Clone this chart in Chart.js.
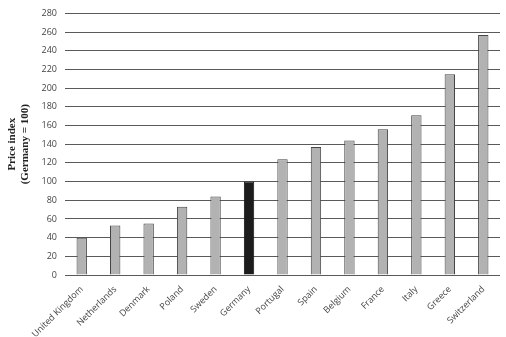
<!DOCTYPE html>
<html>
<head>
<meta charset="utf-8">
<script src="https://cdn.jsdelivr.net/npm/chart.js@4"></script>
<style>
  html, body { margin: 0; padding: 0; background: #fff; }
  #wrap { width: 506px; height: 337px; }
</style>
</head>
<body>
<div id="wrap"><canvas id="chart" width="506" height="337"></canvas></div>
<script>
// price index by country, Germany = 100
const countries = ['United Kingdom', 'Netherlands', 'Denmark', 'Poland', 'Sweden', 'Germany',
    'Portugal', 'Spain', 'Belgium', 'France', 'Italy', 'Greece', 'Switzerland'];
const priceIndex = [40, 53, 55, 73, 84, 100, 124, 137, 144, 156, 171, 215, 257];
const yTicks = [0, 20, 40, 60, 80, 100, 120, 140, 160, 180, 200, 220, 240, 260, 280];

const barColors = countries.map(c => c === 'Germany' ? '#1c1c1c' : '#b2b2b2');
const borderColors = countries.map(c => c === 'Germany' ? '#111' : '#444');

const ctx = document.getElementById('chart').getContext('2d');

const chart = new Chart(ctx, {
    type: 'bar',
    data: {
        labels: countries,
        datasets: [{
            label: 'Price index',
            data: priceIndex,
            backgroundColor: barColors,
            borderColor: borderColors,
            borderWidth: 1,
            barPercentage: 0.62,
            categoryPercentage: 0.5
        }]
    },
    options: {
        responsive: false,
        animation: false,
        layout: { padding: { top: 4, right: 6, left: 6, bottom: 0 } },
        plugins: {
            legend: { display: false },
            tooltip: { enabled: false }
        },
        scales: {
            x: {
                grid: { display: false },
                border: { display: false },
                ticks: {
                    color: '#444',
                    font: { family: 'Open Sans', size: 9 },
                    minRotation: 45,
                    maxRotation: 45,
                    padding: 1
                },
                afterFit: s => { s.height = 62; }
            },
            y: {
                min: 0,
                max: 280,
                afterBuildTicks: s => { s.ticks = yTicks.map(v => ({ value: v })); },
                grid: { color: '#5a5a5a', lineWidth: 1, drawTicks: false },
                border: { display: false },
                ticks: {
                    color: '#444',
                    font: { family: 'Open Sans', size: 9 },
                    padding: 8
                },
                title: {
                    display: true,
                    text: ['Price index', '(Germany = 100)'],
                    color: '#222',
                    font: { family: 'Liberation Serif', size: 11, weight: 'bold', lineHeight: 1.15 },
                    padding: { top: 0, bottom: 8 }
                },
                afterFit: s => { s.width = 59; }
            }
        }
    }
});
</script>
</body>
</html>
